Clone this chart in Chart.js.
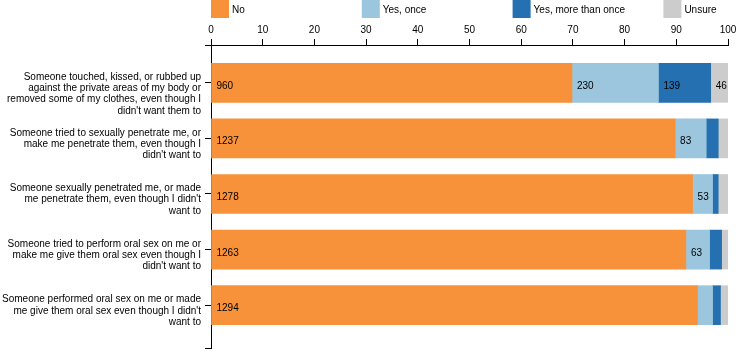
<!DOCTYPE html>
<html>
<head>
<meta charset="utf-8">
<script src="https://cdn.jsdelivr.net/npm/chart.js@4"></script>
<style>
  html, body { margin: 0; padding: 0; background: #fff; }
  #wrap { width: 741px; height: 351px; position: relative; }
</style>
</head>
<body>
<div id="wrap"><canvas id="c" width="741" height="351"></canvas></div>
<script>
const categories = [
  ["Someone touched, kissed, or rubbed up", "against the private areas of my body or", "removed some of my clothes, even though I", "didn't want them to"],
  ["Someone tried to sexually penetrate me, or", "make me penetrate them, even though I", "didn't want to"],
  ["Someone sexually penetrated me, or made", "me penetrate them, even though I didn't", "want to"],
  ["Someone tried to perform oral sex on me or", "make me give them oral sex even though I", "didn't want to"],
  ["Someone performed oral sex on me or made", "me give them oral sex even though I didn't", "want to"]
];
const seriesNames = ["No", "Yes, once", "Yes, more than once", "Unsure"];
const noCounts      = [960, 1237, 1278, 1263, 1294];
const yesOnceCounts = [230, 83, 53, 63, 40];
const yesMoreCounts = [139, 32, 15, 32, 21];
const unsureCounts  = [46, 26, 26, 17, 20];
const xTicks = [0, 10, 20, 30, 40, 50, 60, 70, 80, 90, 100];

const colors = ["#f8923a", "#9bc6de", "#2570b0", "#cccccc"];
const allCounts = [noCounts, yesOnceCounts, yesMoreCounts, unsureCounts];
const totals = categories.map((_, i) => allCounts.reduce((s, a) => s + a[i], 0));

const Y_MIN = -0.68, Y_MAX = 4.77;
const FONT = "Arial, 'Liberation Sans', Helvetica, sans-serif";

const datasets = allCounts.map((counts, k) => ({
  label: seriesNames[k],
  backgroundColor: colors[k],
  borderWidth: 0,
  barThickness: 39,
  counts: counts,
  data: counts.map((c, i) => ({ x: c / totals[i] * 100, y: i }))
}));

const overlay = {
  id: 'overlay',
  afterDatasetsDraw(chart) {
    const ctx = chart.ctx;
    ctx.save();
    ctx.font = "10px " + FONT;
    ctx.fillStyle = "#000";
    ctx.textAlign = "left";
    ctx.textBaseline = "alphabetic";
    chart.data.datasets.forEach((ds, k) => {
      const meta = chart.getDatasetMeta(k);
      meta.data.forEach((el, i) => {
        const pct = ds.data[i].x;
        if (pct >= 3) {
          const left = Math.min(el.x, el.base);
          ctx.fillText(String(ds.counts[i]), left + 5, el.y + 6);
        }
      });
    });
    const area = chart.chartArea;
    chart.data.datasets.forEach((d, k) => {
      const x0 = area.left + k * 150.8;
      ctx.fillStyle = d.backgroundColor;
      ctx.fillRect(x0, 0, 18, 18);
      ctx.fillStyle = "#000";
      ctx.textBaseline = "middle";
      ctx.fillText(d.label, x0 + 21, 10);
    });
    ctx.restore();
  }
};

new Chart(document.getElementById('c'), {
  type: 'bar',
  data: { datasets },
  options: {
    indexAxis: 'y',
    responsive: false,
    animation: false,
    events: [],
    layout: { padding: { left: 0, right: 13, top: 0, bottom: 3 } },
    plugins: { legend: { display: false }, tooltip: { enabled: false } },
    scales: {
      x: {
        type: 'linear',
        position: 'top',
        stacked: true,
        min: 0, max: 100,
        afterBuildTicks: s => { s.ticks = xTicks.map(v => ({ value: v })); },
        afterFit: s => { s.height = 45; },
        ticks: { color: '#000', font: { family: FONT, size: 10 }, padding: 3, maxRotation: 0, autoSkip: false },
        grid: { drawOnChartArea: false, drawTicks: true, tickLength: 6, color: '#000', lineWidth: 1 },
        border: { display: true, color: '#000', width: 1 }
      },
      y: {
        type: 'linear',
        stacked: true,
        reverse: true,
        offset: false,
        min: Y_MIN, max: Y_MAX,
        afterBuildTicks: s => { s.ticks = [Y_MIN, 0, 1, 2, 3, 4, Y_MAX].map(v => ({ value: v })); },
        afterFit: s => { s.width = 211; s.paddingTop = 0; s.paddingBottom = 0; },
        ticks: {
          color: '#000',
          font: { family: FONT, size: 10, lineHeight: 1.12 },
          padding: 4,
          autoSkip: false,
          labelOffset: -5.5,
          callback: (v) => {
            if (Number.isInteger(v) && v >= 0 && v < categories.length) {
              const lines = categories[v];
              return Array(lines.length - 1).fill('').concat(lines);
            }
            return '';
          }
        },
        grid: { offset: false, drawOnChartArea: false, drawTicks: true, tickLength: 6, color: '#000', lineWidth: 1 },
        border: { display: true, color: '#000', width: 1 }
      }
    }
  },
  plugins: [overlay]
});
</script>
</body>
</html>
